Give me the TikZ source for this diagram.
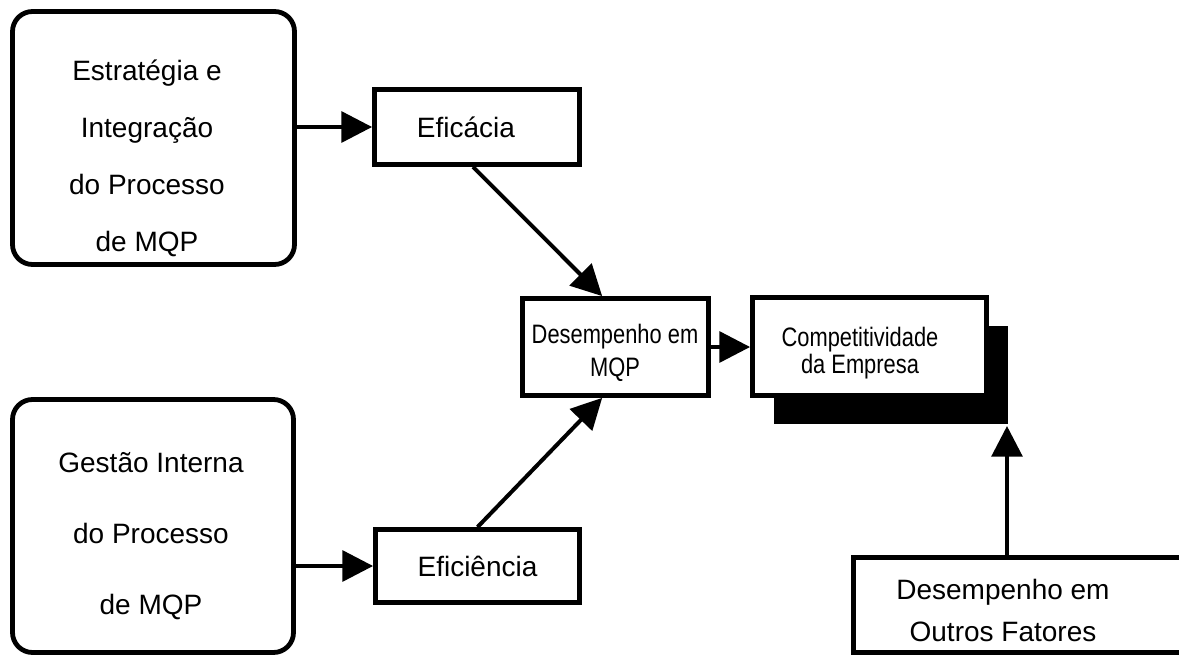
\documentclass[tikz,border=0pt]{standalone}
\usepackage{fontspec}
\setmainfont{Liberation Sans}
\newfontfamily\narrowsans[FakeStretch=0.82]{Liberation Sans}
\usetikzlibrary{arrows.meta,shadows}
\newdimen\pxu \pxu=0.75pt

\begin{document}
\begin{tikzpicture}[x=\pxu, y=-\pxu,
  box/.style={draw, line width=4.8\pxu, inner sep=0pt, fill=white},
  roundbox/.style={box, rounded corners=20\pxu},
  bigtxt/.style={inner sep=0pt, align=center, font=\fontsize{21}{#1}\selectfont},
  smalltxt/.style={inner sep=0pt, align=center, font=\narrowsans\fontsize{20}{#1}\selectfont},
  conn/.style={line width=3pt, -{Triangle[length=23pt, width=23pt]}}]
  % page: 1179 x 657 px, one unit = one pixel of the sketch
  \clip (0,0) rectangle (1179,657);

  % left column: the two process boxes
  \node[roundbox, minimum width=282\pxu, minimum height=253\pxu] (estrat) at (153.5,138) {};
  \node[bigtxt=42.75pt] (estratTxt) at (147,158) {Estratégia e\\Integração\\do Processo\\de MQP};
  \node[roundbox, minimum width=281\pxu, minimum height=253\pxu] (gestao) at (153,526) {};
  \node[bigtxt=53pt] (gestaoTxt) at (151,536) {Gestão Interna\\do Processo\\de MQP};

  % middle column
  \node[box, minimum width=205\pxu, minimum height=75\pxu, font=\fontsize{21}{25}\selectfont] (eficacia) at (477,127) {Eficácia\hspace*{22\pxu}};
  \node[box, minimum width=204\pxu, minimum height=73\pxu, font=\fontsize{21}{25}\selectfont] (eficiencia) at (477.5,566) {Eficiência};
  \node[box, minimum width=186\pxu, minimum height=97\pxu] (desemp) at (615.5,347) {};
  \node[smalltxt=25pt] (desempTxt) at (615,353) {Desempenho em\\MQP};

  % right column: competitiveness (with shadow) and other factors
  \node[box, minimum width=234\pxu, minimum height=98\pxu,
    drop shadow={shadow xshift=16pt, shadow yshift=-21pt, fill=black, opacity=1}] (comp) at (869.5,346.5) {};
  \node[smalltxt=20pt] (compTxt) at (860,353) {Competitividade\\da Empresa};
  \node[box, anchor=north west, minimum width=350\pxu, minimum height=95\pxu] (outros) at (851,555) {};
  \node[bigtxt=31.5pt] (outrosTxt) at (1003,610) {Desempenho em\\Outros Fatores};
  \coordinate (shadowBase) at (1007,426);

  % connectors
  \draw[conn] (estrat.east |- eficacia.west) -- (eficacia.west);
  \draw[conn] (gestao.east |- eficiencia.west) -- (eficiencia.west);
  \draw[conn] ([xshift=-3pt]eficacia.south) -- ([xshift=-10pt]desemp.north);
  \draw[conn] (eficiencia.north) -- ([xshift=-10pt]desemp.south);
  \draw[conn] (desemp.east) -- (desemp.east -| comp.west);
  \draw[conn] (outros.north -| shadowBase) -- (shadowBase);
\end{tikzpicture}
\end{document}
